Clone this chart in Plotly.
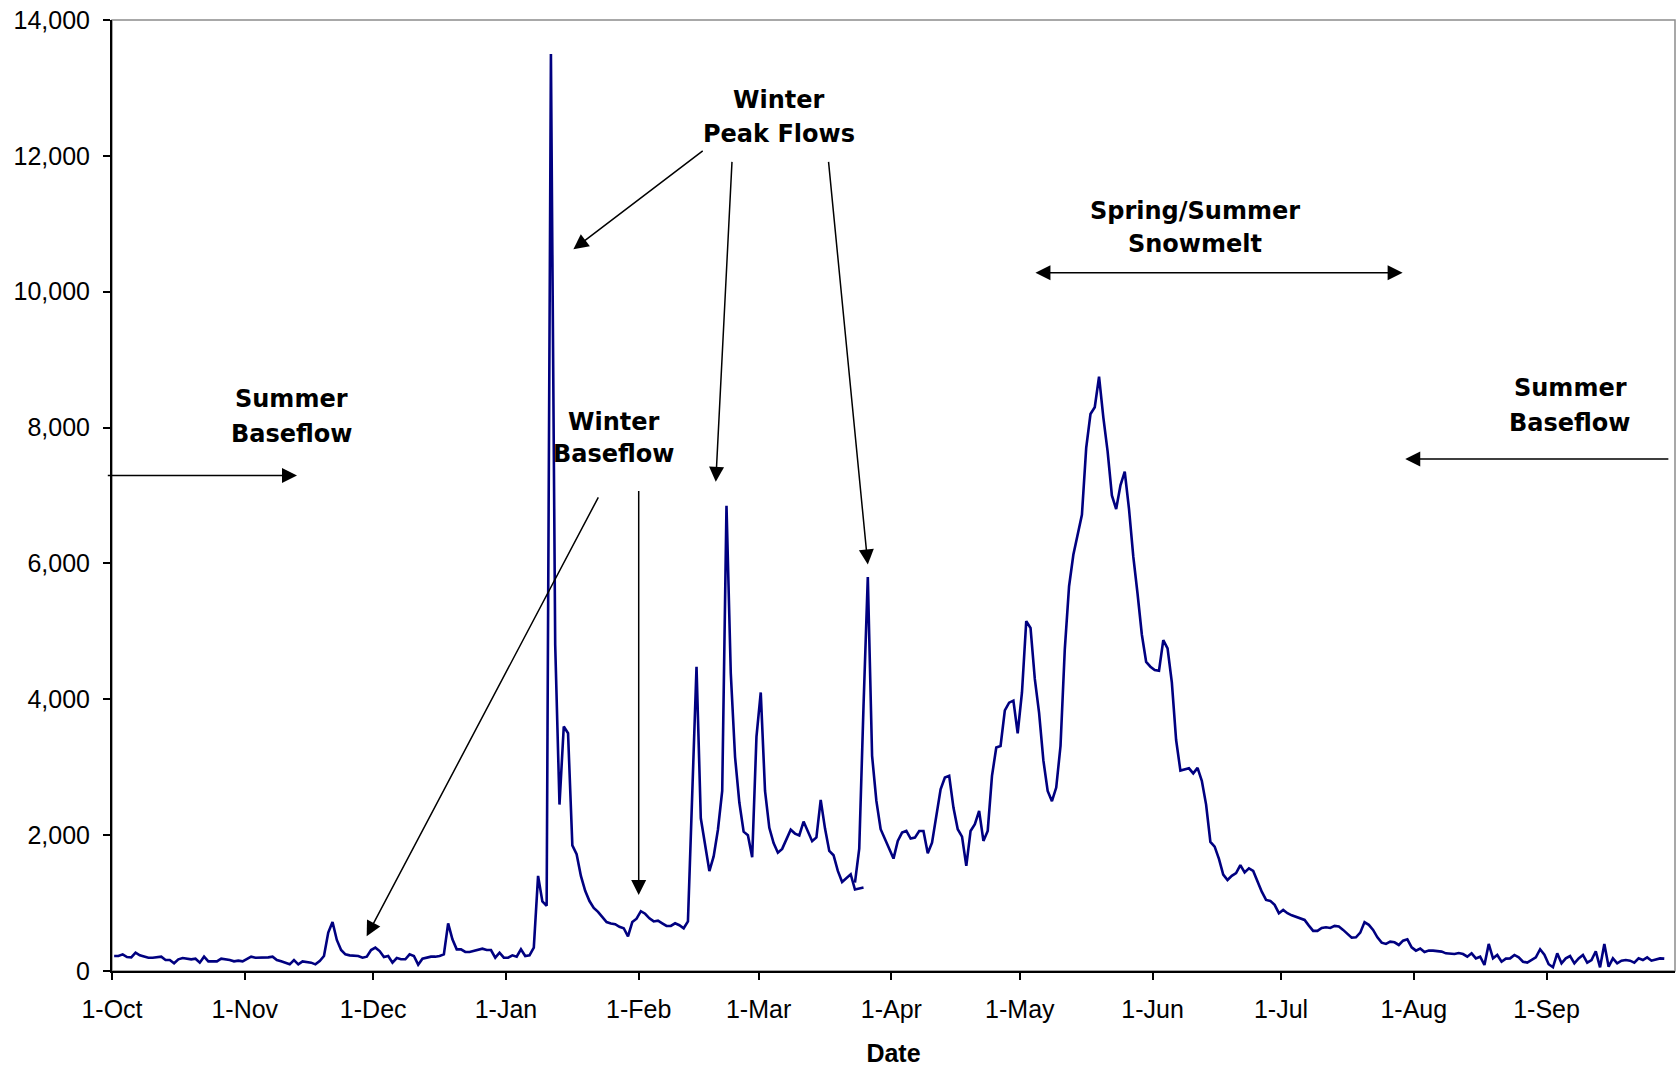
import plotly.graph_objects as go
import pandas as pd

# ---------------- data ----------------
month_ticks = ["2004-10-01", "2004-11-01", "2004-12-01", "2005-01-01", "2005-02-01", "2005-03-01",
               "2005-04-01", "2005-05-01", "2005-06-01", "2005-07-01", "2005-08-01", "2005-09-01"]
month_labels = ["1-Oct", "1-Nov", "1-Dec", "1-Jan", "1-Feb", "1-Mar",
                "1-Apr", "1-May", "1-Jun", "1-Jul", "1-Aug", "1-Sep"]
y_ticks = [0, 2000, 4000, 6000, 8000, 10000, 12000, 14000]

# daily flow, first record (1-Oct onward)
flow_a = [
    221, 221, 245, 206, 201, 270, 230, 211, 196, 196,
    206, 211, 162, 162, 113, 172, 191, 181, 172, 181,
    123, 211, 142, 142, 142, 181, 172, 162, 142, 152,
    142, 181, 211, 196, 196, 201, 201, 211, 162, 142,
    123, 98, 162, 98, 142, 132, 123, 98, 147, 221,
    565, 722, 457, 309, 245, 230, 230, 221, 196, 211,
    309, 344, 293, 206, 221, 123, 191, 172, 172, 245,
    221, 93, 181, 196, 211, 211, 221, 245, 702, 467,
    319, 319, 280, 280, 294, 319, 329, 309, 309, 196,
    270, 196, 196, 230, 211, 319, 221, 230, 344, 1400,
    1024, 960, 13500, 4800, 2450, 3600, 3500, 1850, 1720, 1400,
    1180, 1030, 930, 870, 800, 720, 700, 690, 650, 630,
    510, 720, 770, 880, 843, 776, 730, 742, 702, 663,
    663, 702, 674, 629, 730, 2600, 4480, 2248, 1855, 1472,
    1686, 2080, 2650, 6850, 4384, 3150, 2480, 2051, 2000, 1675,
    3450, 4100, 2650, 2108, 1883, 1742, 1798, 1939, 2080, 2023,
    1995, 2200, 2051, 1911, 1967, 2520, 2100, 1768, 1704, 1473,
    1311, 1375, 1424, 1200, 1220, 1230,
]

# daily flow, second record (starts at day index B_START)
B_START = 173
flow_b = [
    1300, 1800, 3900, 5800, 3167, 2504, 2087, 1940, 1792, 1655,
    1915, 2038, 2062, 1949, 1964, 2062, 2062, 1733, 1890, 2283,
    2676, 2848, 2872, 2406, 2087, 1979, 1547, 2062, 2160, 2357,
    1915, 2062, 2872, 3290, 3312, 3838, 3950, 3980, 3500, 4100,
    5150, 5050, 4300, 3800, 3100, 2650, 2500, 2700, 3312, 4735,
    5664, 6128, 6407, 6716, 7700, 8200, 8300, 8750, 8150, 7650,
    7000, 6800, 7150, 7350, 6800, 6100, 5550, 4950, 4550, 4480,
    4430, 4420, 4870, 4750, 4250, 3400, 2950, 2971, 2984, 2909,
    2990, 2800, 2450, 1900, 1830, 1650, 1420, 1340, 1400, 1440,
    1560, 1450, 1510, 1473, 1316, 1168, 1046, 1032, 973, 851,
    899, 851, 820, 800, 772, 752, 668, 590, 590, 634,
    644, 634, 664, 654, 605, 546, 491, 496, 565, 720,
    680, 605, 496, 417, 398, 432, 422, 383, 447, 467,
    349, 300, 330, 280, 300, 300, 290, 285, 260, 250,
    250, 265, 250, 211, 260, 186, 210, 88, 398, 186,
    236, 137, 182, 186, 236, 201, 137, 123, 162, 200,
    320, 240, 100, 55, 260, 113, 186, 221, 113, 186,
    236, 123, 162, 290, 54, 398, 64, 186, 113, 152,
    162, 152, 123, 186, 162, 201, 152, 172, 186, 182,
]

# ---------------- helpers ----------------
origin = pd.Timestamp("2004-10-01")


def dt(days):
    return (origin + pd.Timedelta(days=days)).strftime("%Y-%m-%d %H:%M:%S")


dates_a = [dt(i + 0.5) for i in range(len(flow_a))]
dates_b = [dt(B_START + i + 0.5) for i in range(len(flow_b))]

LINE = dict(color="#000080", width=2.6)

fig = go.Figure()
fig.add_trace(go.Scatter(x=dates_a, y=flow_a, mode="lines", line=LINE, showlegend=False))
fig.add_trace(go.Scatter(x=dates_b, y=flow_b, mode="lines", line=LINE, showlegend=False))

TXT = dict(family="DejaVu Sans, Verdana, sans-serif", size=24, color="black")

# each label line: (text, day, value)
label_lines = [
    ("Summer", 41.96, 8415), ("Baseflow", 41.96, 7908),
    ("Winter", 117.3, 8085), ("Baseflow", 117.3, 7610),
    ("Winter", 155.8, 12817), ("Peak Flows", 155.8, 12327),
    ("Spring/Summer", 253.0, 11195), ("Snowmelt", 253.0, 10700),
    ("Summer", 340.5, 8586), ("Baseflow", 340.5, 8070),
]
for t, d, v in label_lines:
    fig.add_annotation(x=dt(d), y=v, xref="x", yref="y", text="<b>" + t + "</b>", showarrow=False,
                       font=TXT, xanchor="center", yanchor="middle", align="center")

# arrows: (tail_day, tail_val, tip_day, tip_val, double)
arrows = [
    (-1.33, 7294, 43.2, 7294, False),
    (363.8, 7536, 302.0, 7536, False),
    (215.3, 10279, 301.4, 10279, True),
    (138.3, 12091, 107.75, 10624, False),
    (144.8, 11933, 141.0, 7202, False),
    (167.3, 11933, 176.5, 5985, False),
    (113.75, 6995, 59.47, 510, False),
    (123.0, 7090, 123.0, 1119, False),
]
for td, tv, hd, hv, dbl in arrows:
    fig.add_annotation(
        x=dt(hd), y=hv, ax=dt(td), ay=tv, xref="x", yref="y", axref="x", ayref="y",
        text="", showarrow=True, arrowhead=2, arrowsize=2.0, arrowwidth=1.5,
        arrowcolor="black", arrowside="end+start" if dbl else "end",
        startarrowhead=2, startarrowsize=2.0,
    )

TICKFONT = dict(family="Liberation Sans, Arial, sans-serif", size=25, color="black")

fig.update_layout(
    width=1680, height=1067,
    margin=dict(l=112, r=5, t=20, b=96),
    paper_bgcolor="white", plot_bgcolor="white",
    showlegend=False,
    shapes=[dict(type="rect", xref="paper", yref="paper", x0=0, x1=1, y0=0, y1=1,
                 line=dict(color="#8c8c8c", width=1.5), layer="below")],
)
fig.update_xaxes(
    type="date", range=["2004-10-01", "2005-10-01"], automargin=False,
    tickvals=month_ticks, ticktext=month_labels, ticklabeloverflow="allow",
    ticks="outside", ticklen=7, tickwidth=1.5, tickcolor="black",
    showline=True, linecolor="black", linewidth=2,
    showgrid=False, zeroline=False, tickfont=TICKFONT, ticklabelstandoff=8,
    title=dict(text="<b>Date</b>", font=dict(family="Liberation Sans, Arial, sans-serif", size=25, color="black"),
               standoff=22),
)
fig.update_yaxes(
    range=[0, 14000], tickvals=y_ticks, tickformat=",", automargin=False,
    ticklabeloverflow="allow",
    ticks="outside", ticklen=7, tickwidth=1.5, tickcolor="black",
    showline=True, linecolor="black", linewidth=2,
    showgrid=False, zeroline=False, tickfont=TICKFONT, ticklabelstandoff=8,
)

# remove the page's default body margin so the figure sits at the window's corner
fig.write_html("out.html", config={"displayModeBar": False},
               post_script="document.body.style.margin='0';")
